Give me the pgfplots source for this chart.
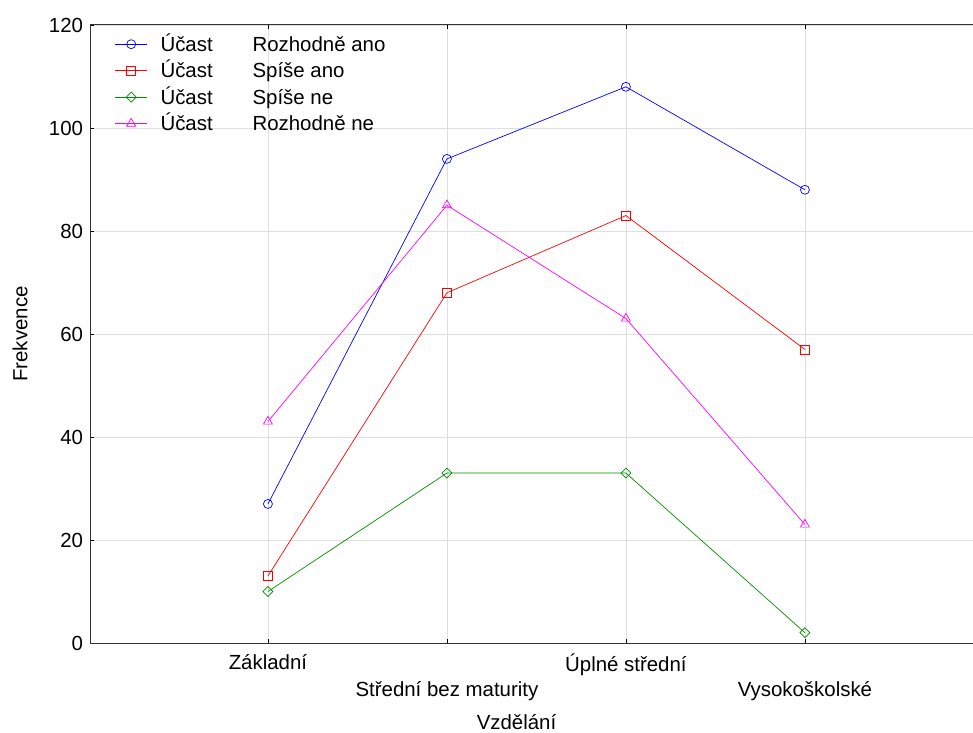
\documentclass[border=0pt]{standalone}
\usepackage{pgfplots}
\pgfplotsset{compat=1.18}
\usepackage{fontspec}
\setmainfont{Liberation Sans}
\definecolor{cblue}{RGB}{0,0,255}
\definecolor{cred}{RGB}{255,0,0}
\definecolor{cgreen}{RGB}{0,140,0}
\definecolor{cmag}{RGB}{255,0,255}
\begin{document}
\fontsize{20.5}{25}\selectfont
\begin{tikzpicture}
\path[use as bounding box] (0,0) rectangle (973bp,733bp);
\begin{axis}[
  at={(90bp,90bp)}, anchor=south west,
  scale only axis, width=883bp, height=618bp,
  xmin=-0.994, xmax=3.939, ymin=0, ymax=120,
  axis x line=box, axis y line=left,
  y axis line style={-}, x axis line style={-},
  axis line style={line width=1pt, black!80},
  xtick={0,2},
  xticklabels={Základní,Úplné střední},
  extra x ticks={1,3},
  extra x tick labels={Střední bez maturity,Vysokoškolské},
  extra x tick style={xticklabel style={yshift=-27bp}},
  xticklabel style={anchor=north, yshift=-4bp},
  ytick={0,20,...,120},
  tick align=inside, major tick length=4bp,
  tick style={black, line width=0.8pt},
  grid=major, grid style={gray!25, line width=0.8pt},
  /pgf/number format/assume math mode=true,
  ticklabel style={font=\fontsize{20.5}{25}\selectfont},
  label style={font=\fontsize{20.5}{25}\selectfont},
  xlabel={Vzdělání}, ylabel={Frekvence},
  xlabel style={at={(axis description cs:0.483,0)}, anchor=center, yshift=-79bp},
  ylabel style={at={(axis description cs:-0.0793,0.5)}, anchor=center, rotate=0},
  legend style={draw=none, fill=none, at={(axis cs:-0.873,119.1)}, anchor=north west,
    font=\fontsize{20.5}{25}\selectfont, row sep=1.7bp},
  legend cell align=left,
  legend image code/.code={\draw[#1, mark repeat=2, mark phase=2] plot coordinates {(0bp,0bp) (16bp,0bp) (32bp,0bp)};},
  every axis plot/.append style={line width=0.7pt, mark size=4.5bp},
]
\addplot[cblue, mark=o, mark options={solid, draw=cblue}] coordinates {(0,27) (1,94) (2,108) (3,88)};
\addlegendentry{\hspace*{11bp}\makebox[92bp][l]{Účast}Rozhodně ano}
\addplot[cred, mark=square, mark options={solid, draw=cred}] coordinates {(0,13) (1,68) (2,83) (3,57)};
\addlegendentry{\hspace*{11bp}\makebox[92bp][l]{Účast}Spíše ano}
\addplot[cgreen, mark=square, mark options={solid, draw=cgreen, rotate=45, scale=0.78}] coordinates {(0,10) (1,33) (2,33) (3,2)};
\addlegendentry{\hspace*{11bp}\makebox[92bp][l]{Účast}Spíše ne}
\addplot[cmag, mark=triangle, mark options={solid, draw=cmag, scale=1.15}] coordinates {(0,43) (1,85) (2,63) (3,23)};
\addlegendentry{\hspace*{11bp}\makebox[92bp][l]{Účast}Rozhodně ne}
\end{axis}
\end{tikzpicture}
\end{document}
